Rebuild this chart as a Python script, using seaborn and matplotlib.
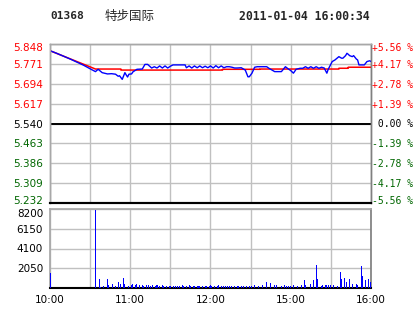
import matplotlib
matplotlib.use("Agg")
import matplotlib.pyplot as plt
import matplotlib.transforms as mtransforms
import numpy as np
import pandas as pd
import seaborn as sns

# ---------------- data ----------------
stock_code = "01368"
stock_name = "特步国际"
timestamp = "2011-01-04 16:00:34"
prev_close = 5.540

price_levels = [5.232, 5.309, 5.386, 5.463, 5.540, 5.617, 5.694, 5.771, 5.848]
pct_labels = ["-5.56 %", "-4.17 %", "-2.78 %", "-1.39 %", " 0.00 %",
              "+1.39 %", "+2.78 %", "+4.17 %", "+5.56 %"]
vol_levels = [2050, 4100, 6150, 8200]
time_ticks = [0, 30, 60, 90, 120, 150, 180, 210, 240]
time_labels = ["10:00", "", "11:00", "", "12:00", "", "15:00", "", "16:00"]

price_t = [0, 5, 10, 15, 20, 25, 30, 34, 36, 39, 43, 46, 49, 51, 52, 54, 56, 57,
           58, 59, 61, 62, 65, 69, 71, 73, 76, 78, 80, 82, 84, 86, 88, 90, 92,
           101, 102, 104, 106, 108, 110, 112, 114, 116, 118, 120, 122, 124, 126,
           128, 130, 132, 134, 136, 138, 140, 143, 146, 148, 149, 151, 153, 155,
           162, 164, 168, 173, 176, 178, 180, 182, 184, 187, 189, 191, 193, 195,
           197, 199, 201, 203, 205, 207, 208, 209, 211, 213, 216, 218, 219, 221,
           222, 223, 224, 226, 227, 229, 230, 231, 235, 237, 239, 240]
price_p = [5.822, 5.812, 5.801, 5.790, 5.778, 5.766, 5.752, 5.741, 5.750, 5.737,
           5.732, 5.733, 5.731, 5.723, 5.725, 5.711, 5.737, 5.728, 5.720, 5.731,
           5.732, 5.740, 5.750, 5.751, 5.769, 5.769, 5.755, 5.760, 5.755, 5.763,
           5.755, 5.763, 5.755, 5.762, 5.767, 5.767, 5.756, 5.763, 5.755, 5.763,
           5.756, 5.763, 5.756, 5.762, 5.756, 5.763, 5.755, 5.764, 5.756, 5.763,
           5.756, 5.760, 5.760, 5.758, 5.755, 5.755, 5.756, 5.747, 5.721, 5.721,
           5.735, 5.758, 5.760, 5.760, 5.753, 5.741, 5.741, 5.760, 5.752, 5.745,
           5.735, 5.750, 5.754, 5.754, 5.760, 5.754, 5.760, 5.754, 5.760, 5.754,
           5.758, 5.755, 5.735, 5.750, 5.760, 5.780, 5.786, 5.799, 5.793, 5.793,
           5.803, 5.812, 5.808, 5.803, 5.799, 5.803, 5.790, 5.786, 5.767, 5.767,
           5.780, 5.783, 5.780]

avg_t = [0, 34, 53, 53, 129, 129, 157, 157, 216, 216, 223, 223, 240]
avg_p = [5.822, 5.751, 5.751, 5.747, 5.747, 5.750, 5.750, 5.751, 5.751, 5.754,
         5.754, 5.758, 5.758]

vol_t = [0, 34, 37, 38, 40, 43, 44, 47, 49, 51, 53, 55, 56, 59, 61, 62, 64, 65,
         67, 69, 70, 72, 74, 75, 77, 79, 80, 82, 84, 85, 87, 89, 90, 92, 94, 95,
         97, 99, 100, 102, 104, 105, 107, 108, 110, 111, 112, 114, 116, 117, 119,
         120, 121, 123, 125, 126, 128, 130, 131, 133, 134, 136, 138, 140, 141,
         143, 145, 147, 149, 151, 153, 156, 159, 162, 165, 168, 169, 173, 175,
         177, 178, 180, 182, 185, 188, 190, 191, 195, 197, 199, 200, 203, 204,
         206, 207, 208, 210, 212, 215, 217, 218, 220, 222, 224, 226, 229, 230,
         233, 234, 236, 238, 240]
vol_v = [1600, 8050, 940, 150, 220, 940, 300, 400, 250, 630, 400, 1080, 440, 200,
         350, 400, 300, 450, 350, 300, 250, 300, 300, 250, 300, 250, 300, 250,
         300, 250, 200, 250, 250, 250, 200, 200, 250, 300, 200, 250, 300, 200,
         250, 250, 200, 250, 250, 250, 250, 250, 250, 300, 200, 250, 250, 300,
         200, 250, 250, 200, 250, 250, 200, 250, 200, 250, 200, 250, 200, 250,
         300, 200, 300, 660, 560, 300, 300, 220, 260, 200, 200, 200, 300, 200,
         260, 800, 300, 430, 800, 2400, 900, 250, 350, 300, 300, 300, 350, 300,
         200, 1670, 900, 1000, 600, 900, 440, 440, 300, 2300, 1250, 800, 940, 600]

assert len(price_t) == len(price_p)
assert len(avg_t) == len(avg_p)
assert len(vol_t) == len(vol_v)

# ---------------- style ----------------
sns.set_theme(style="white")
plt.rcParams['font.family'] = ['DejaVu Sans', 'Noto Sans CJK SC']

RED = "#ff0000"
GREEN = "#006600"
BLUE = "#0000ff"
GRID = "#c0c0c0"

fig = plt.figure(figsize=(4.14, 3.14), dpi=100)
fig.patch.set_facecolor("white")
W, H = 414, 314
ax = fig.add_axes([50 / W, 1 - 203 / H, 321 / W, 159 / H])
axv = fig.add_axes([50 / W, 1 - 288 / H, 321 / W, 79 / H])

price_df = pd.DataFrame({"t": price_t, "p": price_p})
avg_df = pd.DataFrame({"t": avg_t, "p": avg_p})
vol_df = pd.DataFrame({"t": vol_t, "v": vol_v})


def shift(label, dy_px):
    off = mtransforms.ScaledTranslation(0, dy_px / 100.0, fig.dpi_scale_trans)
    label.set_transform(label.get_transform() + off)


def level_color(v):
    if v > prev_close + 1e-9:
        return RED
    if v < prev_close - 1e-9:
        return GREEN
    return "black"


# ---------------- price panel ----------------
sns.lineplot(data=avg_df, x="t", y="p", ax=ax, color=RED, lw=1.1,
             estimator=None, sort=False, zorder=3)
sns.lineplot(data=price_df, x="t", y="p", ax=ax, color=BLUE, lw=1.0,
             estimator=None, sort=False, zorder=4)
ax.axhline(prev_close, color="black", lw=1.4, zorder=2)

ax.set_xlim(0, 240)
ax.set_ylim(price_levels[0], price_levels[-1])
ax.set_xticks(time_ticks)
ax.set_xticklabels([])
ax.set_yticks(price_levels)
ax.set_yticklabels([f"{v:.3f}" for v in price_levels])
ax.grid(True, color=GRID, lw=1.0)
ax.set_axisbelow(True)
ax.set_xlabel("")
ax.set_ylabel("")
ax.tick_params(axis="both", length=0, labelsize=7.5, pad=5)
ylabs = ax.get_yticklabels()
for lab, v in zip(ylabs, price_levels):
    lab.set_color(level_color(v))
shift(ylabs[0], 3)
shift(ylabs[-1], -3)

ax2 = ax.twinx()
ax2.set_ylim(price_levels[0], price_levels[-1])
ax2.set_yticks(price_levels)
ax2.set_yticklabels(pct_labels, family="DejaVu Sans Mono")
ax2.tick_params(axis="y", length=0, labelsize=7, pad=1)
rlabs = ax2.get_yticklabels()
for lab, v in zip(rlabs, price_levels):
    lab.set_color(level_color(v))
shift(rlabs[0], 3)
shift(rlabs[-1], -3)
ax2.grid(False)

for a in (ax, ax2):
    a.spines["top"].set_color("#a8a8a8")
    a.spines["left"].set_color("#a8a8a8")
    a.spines["right"].set_color("#808080")
    a.spines["bottom"].set_color("black")
    a.spines["bottom"].set_linewidth(1.5)
    a.spines["top"].set_linewidth(1.0)
    a.spines["left"].set_linewidth(1.0)
    a.spines["right"].set_linewidth(1.0)

# ---------------- volume panel ----------------
sns.histplot(data=vol_df, x="t", weights="v", discrete=True, shrink=0.75,
             color=BLUE, alpha=1.0, linewidth=0, ax=axv, zorder=3)
axv.set_xlim(0, 240)
axv.set_ylim(0, 8200)
axv.set_xticks(time_ticks)
axv.set_xticklabels(time_labels)
axv.set_yticks(vol_levels)
axv.set_yticklabels([str(v) for v in vol_levels])
axv.grid(True, color=GRID, lw=1.0)
axv.set_axisbelow(True)
axv.set_xlabel("")
axv.set_ylabel("")
axv.tick_params(axis="both", length=0, labelsize=7.5, pad=5, colors="black")
vlabs = axv.get_yticklabels()
shift(vlabs[-1], -4)
axv.spines["top"].set_color("#a8a8a8")
axv.spines["left"].set_color("#a8a8a8")
axv.spines["right"].set_color("#808080")
axv.spines["bottom"].set_color("black")
axv.spines["bottom"].set_linewidth(1.5)

# ---------------- header ----------------
fig.text(50 / W, 1 - 16 / H, stock_code, family="DejaVu Sans Mono",
         weight="bold", fontsize=8, va="center", ha="left")
fig.text(105 / W, 1 - 16 / H, stock_name, family=["Noto Sans CJK SC", "DejaVu Sans"],
         fontsize=9, va="center", ha="left")
fig.text(370 / W, 1 - 16 / H, timestamp, family="DejaVu Sans Mono",
         weight="bold", fontsize=8.3, va="center", ha="right")

fig.savefig("out.png", dpi=100, facecolor="white")
